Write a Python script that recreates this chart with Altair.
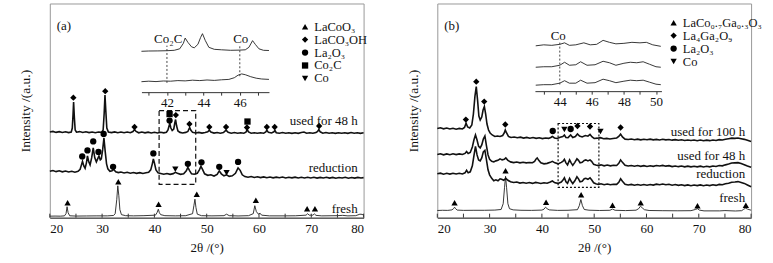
import altair as alt
import pandas as pd

FONT = "Liberation Serif, DejaVu Serif, serif"
T = 2          # top padding (px)
H = 215        # plot height
W = 315        # plot width

# ---------------- panel (a): traces as (2theta, intensity) ----------------
A_FRESH = [(20,1.5),(21,1.6),(22,1.5),(22.8,1.8),(23.1,4),(23.3,11),(23.5,5),(23.8,1.9),(25,1.6),(27,1.7),(29,1.8),
           (31,1.8),(32.2,2.2),(32.5,4),(32.8,18),(33.0,32),(33.2,22),(33.4,8),(33.7,3),(34.5,2),(36,1.8),(38,2),
           (40.2,2.5),(40.5,5),(40.75,8.5),(40.95,5),(41.2,3),(42,2),(44,1.8),(46,2),(47.3,4),(47.55,12),(47.75,18.5),
           (47.95,10),(48.2,3.5),(49,2),(51,1.8),(53.3,2),(53.8,3.5),(54.3,2),(56,1.7),(58,2),(58.9,4),(59.2,12),
           (59.5,6),(59.9,3.5),(60.2,4.5),(60.5,2.5),(62,1.8),(65,1.8),(67,1.9),(69.0,2.5),(69.3,4),(69.6,2.5),
           (70.3,2.5),(70.6,3.8),(70.9,2.3),(72,1.8),(75,2),(76,2.3),(77,1.8),(78.5,2),(79.3,3.5),(79.7,3.3),(80,2.5)]

A_RED = [(20,46.5),(20.6,47.3),(21.2,46.2),(21.8,47),(22.4,46),(23,46.8),(23.6,45.8),(24.2,46.6),(24.8,45.6),(25.4,46.5),
         (25.8,48.5),(26.05,53),(26.25,56.5),(26.5,52),(26.75,49.5),(27.0,55),(27.2,62),(27.45,56),(27.7,53),(28.0,60),
         (28.3,70),(28.6,60),(28.9,56),(29.15,59),(29.4,62),(29.65,58),(29.85,59),(30.1,68),(30.35,80),(30.6,66),
         (30.85,54),(31.1,49),(31.5,46.5),(31.9,47),(32.2,48.5),(32.6,46),(33.1,45.2),(33.6,45.8),(34.2,44.8),(34.8,45.5),
         (35.4,44.6),(36,45.3),(36.6,44.5),(37.2,45.2),(37.8,44.4),(38.4,45),(38.9,45.5),(39.3,48),(39.6,54),(39.8,59),
         (40.0,55),(40.3,48),(40.7,45),(41.2,44.4),(41.8,43.6),(42.4,44.3),(43,43.5),(43.6,44.2),(44.0,45.5),(44.4,44.6),
         (45,43.5),(45.6,44),(46.1,47),(46.4,50.5),(46.7,47.5),(47.1,44),(47.6,43.6),(48.2,44.5),(48.6,48),(48.9,51.5),
         (49.2,48.5),(49.6,44),(50.2,42.5),(50.8,43),(51.4,41.8),(52,43.5),(52.4,47),(52.8,44),(53.3,42),(53.8,43),
         (54.3,41.5),(54.9,42),(55.5,44.5),(56.0,50),(56.4,47.5),(56.8,43),(57.3,41.2),(57.9,40.6),(58.5,41.3),(59.1,40.4),
         (59.7,41),(60.3,40.2),(60.9,40.9),(61.5,40.1),(62.1,40.8),(62.7,40),(63.3,40.7),(63.9,40.1),(64.5,40.8),(65.1,39.9),
         (65.7,40.6),(66.3,40),(66.9,40.7),(67.5,39.8),(68.1,40.5),(68.7,39.9),(69.3,40.6),(69.9,39.8),(70.5,40.5),(71.1,39.7),
         (71.7,40.4),(72.3,39.8),(72.9,40.6),(73.5,39.7),(74.1,40.4),(74.7,39.6),(75.3,40.3),(75.9,39.8),(76.5,40.5),(77.1,39.6),
         (77.7,40.3),(78.3,39.7),(78.9,40.4),(79.5,39.8),(80,40.2)]

A_U48 = [(20,86),(20.6,86.6),(21.2,85.6),(21.8,86.3),(22.4,85.5),(23,86.2),(23.6,85.4),(24.1,86),(24.3,90),(24.45,104),
         (24.55,116),(24.7,100),(24.85,88),(25.1,85.8),(25.7,86.4),(26.3,85.5),(26.9,86.2),(27.5,85.4),(28.1,86),(28.7,85.3),
         (29.3,86),(29.9,85.6),(30.2,88),(30.4,105),(30.55,123),(30.7,108),(30.9,90),(31.2,86),(31.8,85.4),(32.4,86.1),
         (33,85.3),(33.6,86),(34.2,85.2),(34.8,85.9),(35.4,85.3),(35.9,86.5),(36.2,88.5),(36.5,86.6),(37,85.2),(37.6,85.9),
         (38.2,85.1),(38.8,85.8),(39.4,85),(40,85.7),(40.6,85),(41.2,85.7),(41.8,85.1),(42.3,85.8),(42.6,88),(42.8,92),
         (42.95,94.5),(43.15,90),(43.4,87.5),(43.7,89),(43.9,95),(44.05,98.5),(44.25,92),(44.5,87),(44.9,85.6),(45.4,85),
         (46,85.6),(46.4,86.5),(46.6,89),(46.75,90.5),(46.95,88),(47.3,85.6),(47.9,85),(48.5,85.6),(49.1,84.9),(49.7,85.5),
         (50.2,86.2),(50.5,87.8),(50.8,86),(51.4,84.9),(52,85.5),(52.6,84.8),(53.2,85.4),(53.7,87.8),(54.1,85.6),(54.7,84.8),
         (55.3,85.4),(55.9,84.7),(56.5,85.3),(57.1,84.8),(57.5,85.8),(57.75,88.3),(58.0,86),(58.5,84.8),(59.1,85.3),(59.7,84.7),
         (60.3,85.3),(60.9,84.8),(61.3,86),(61.5,87.8),(61.8,85.6),(62.4,85),(62.85,86.2),(63.05,87.5),(63.3,85.3),(63.9,84.8),
         (64.5,85.4),(65.1,84.7),(65.7,85.3),(66.3,84.6),(66.9,85.2),(67.5,84.6),(68.1,85.5),(68.6,86),(69.1,84.8),(69.7,85.3),
         (70.3,84.7),(70.9,85.4),(71.2,86.5),(71.45,88.5),(71.7,86.2),(72.2,84.8),(72.8,85.4),(73.4,84.7),(74,85.3),(74.6,84.6),
         (75.2,85.3),(75.8,84.7),(76.4,85.3),(77,84.6),(77.6,85.4),(78.2,84.7),(78.8,85.3),(79.4,84.6),(80,85.2)]

A_PHASES = ["LaCoO₃", "LaCO₃OH", "La₂O₃", "Co₂C", "Co"]
A_MARKERS = [(23.4,15,0),(33.1,36,0),(40.8,13.5,0),(48.1,23.5,0),(59.4,17.5,0),(69.2,9,0),(70.7,9,0),
             (24.5,120.5,1),(30.6,127,1),(36.2,91,1),(42.9,97.5,2),(42.9,104,3),(44.1,103,1),(46.7,94,1),(50.5,91,1),
             (53.7,91,1),(57.7,90.5,1),(57.8,96.5,3),(61.5,91,1),(63.0,91,1),(71.5,92,1),
             (26.2,61.5,2),(27.2,67.5,2),(28.3,76.5,2),(29.3,66,2),(30.3,84,2),(32.1,51,2),(39.8,64.5,2),(46.4,54,2),
             (49.0,55.5,2),(52.4,51,2),(56.0,56,2),(44.0,48.5,4),(53.8,45,4)]
A_LABELS = [("used for 48 h", 97), ("reduction", 50), ("fresh", 8.5)]
A_BOX = (40.9, 47.9, 33.5, 107.5)

# inset (a)
A_IN_TOP = [(40.6,41),(41.0,41.3),(41.5,41.4),(42.0,41.6),(42.4,42),(42.7,43.5),(42.9,49),(43.0,54.3),(43.15,50),
            (43.35,45.5),(43.5,44.5),(43.7,48),(43.85,55),(43.95,58.7),(44.1,52),(44.3,45),(44.6,43),(45.0,42.5),
            (45.5,42),(46.0,42.2),(46.3,42.5),(46.5,45),(46.7,51.7),(46.85,48),(47.05,43.5),(47.3,42),(47.6,41.8)]
A_IN_BOT = [(40.6,10.5),(41.0,11),(41.4,10.6),(41.8,11.2),(42.2,11),(42.6,11.6),(43.0,11.3),(43.4,12),(43.8,11.6),
            (44.2,12.2),(44.6,11.8),(45.0,12.4),(45.4,12.8),(45.7,14.5),(45.9,17),(46.1,18.3),(46.3,17.5),(46.6,15.5),
            (46.9,14),(47.2,13.2),(47.6,12.8)]
A_IN_RULES = [(42.0, 9.3, 46.7), (46.0, 16, 47)]
A_IN_TEXT = [(42.07, 53, "Co₂C"), (46.05, 53, "Co")]

# ---------------- panel (b) ----------------
B_FRESH = [(20,7.2),(21,7.4),(22,7.3),(22.8,7.8),(23.1,9),(23.3,10.5),(23.5,9),(23.8,7.6),(25,7.3),(27,7.4),(29,7.4),
           (31,7.6),(32.2,8.2),(32.6,14),(32.85,30),(33.05,41.5),(33.25,30),(33.5,14),(33.8,9),(34.5,7.8),(36,7.4),(38,7.3),
           (40,7.6),(40.4,8.5),(40.7,10.5),(41.0,9),(41.4,7.8),(43,7.3),(45,7.4),(46.8,8),(47.15,12),(47.45,18.2),
           (47.75,12),(48.1,8.2),(49,7.5),(51,7.2),(53,7.4),(53.5,8.6),(54,7.4),(56,7.1),(58,7.5),(58.5,9),(58.85,11.5),
           (59.2,9.8),(59.6,8),(60.5,7.2),(63,7),(66,6.9),(68.5,7),(69.4,8.3),(69.75,9),(70.1,7.6),(71,6.8),(74,6.8),
           (75,7.1),(77,6.7),(78.2,7),(78.6,8.5),(78.95,9.5),(79.3,8.6),(80,7.5)]

B_RED = [(20,44),(20.6,44.7),(21.2,43.6),(21.8,44.5),(22.4,43.7),(23,44.6),(23.6,43.8),(24.2,44.5),(24.8,43.9),(25.3,45),
         (25.6,47.5),(25.9,45),(26.3,46),(26.7,52),(27.0,62),(27.3,71.5),(27.6,63),(27.9,58),(28.2,57),(28.5,60),(28.8,66),
         (29.1,67.5),(29.4,58),(29.7,48),(30,43),(30.4,39.5),(30.8,37),(31.2,38),(31.6,37),(32.0,39),(32.3,38.5),(32.7,37.5),
         (33.1,39.5),(33.5,37.5),(34,36),(34.6,35.3),(35.2,35.8),(35.8,34.7),(36.4,35.3),(37,34.5),(37.6,35.2),(38.2,34.4),
         (38.8,35.4),(39.2,35),(39.8,34.3),(40.4,35),(41,34.6),(41.6,35.8),(42.0,36.8),(42.5,35),(43.1,34.4),(43.7,35.8),
         (44.0,37.5),(44.3,40),(44.6,36),(44.9,34.5),(45.3,39.5),(45.6,36.5),(45.9,34.2),(46.3,37),(46.7,41),(47.0,39),
         (47.3,36),(47.7,36.5),(48.1,39),(48.4,39.5),(48.8,38.5),(49.2,40),(49.5,38),(49.9,35),(50.3,34),(50.8,33.3),
         (51.3,34),(51.9,33.1),(52.5,33.8),(53.1,33),(53.7,33.6),(54.3,33.4),(54.7,35.5),(55.05,39),(55.4,36.5),(55.9,33.5),
         (56.5,32.8),(57.1,33.4),(57.7,32.6),(58.3,33.3),(58.9,32.5),(59.5,33.2),(60.1,32.6),(60.7,33.3),(61.3,32.7),
         (61.9,33.6),(62.5,33),(63.1,33.8),(63.7,33),(64.3,33.5),(64.9,32.6),(65.5,33.2),(66.1,32.4),(66.7,33),(67.3,32.2),
         (67.9,32.9),(68.5,32.1),(69.1,32.8),(69.7,32.2),(70.3,32.9),(70.9,32.1),(71.5,32.8),(72.1,32.2),(72.7,33),
         (73.3,32.4),(73.9,33.4),(74.5,33),(75.1,34),(75.7,34.6),(76.3,35.6),(76.9,35.8),(77.5,36.2),(78.1,35.4),
         (78.7,34.4),(79.3,32.8),(80,31)]

B_U48 = [(20,63.5),(20.6,64.2),(21.2,63.1),(21.8,64),(22.4,63.2),(23,64.1),(23.6,63.3),(24.2,64),(24.8,63.4),(25.3,64.5),
         (25.6,66.5),(25.9,64.5),(26.3,65.5),(26.7,71),(27.0,78),(27.3,83),(27.6,78),(27.9,71.5),(28.2,70),(28.5,73),
         (28.8,79),(29.1,82),(29.4,72),(29.7,63),(30,58.5),(30.4,56.5),(30.8,56),(31.2,57),(31.6,57.5),(32.0,59),(32.4,58),
         (32.8,58.5),(33.1,60),(33.5,57.5),(34,56),(34.6,55.3),(35.2,55.8),(35.8,55),(36.4,55.6),(37,55),(37.6,55.4),
         (38.2,55.2),(38.6,56.5),(38.9,59),(39.1,60),(39.4,57.5),(39.8,55),(40.4,54),(41,54.5),(41.6,55.5),(42.0,56.5),
         (42.5,55),(43.1,54),(43.7,55.5),(44.0,56.5),(44.3,58.5),(44.6,55),(44.9,53),(45.3,58),(45.6,55),(45.9,52.5),
         (46.3,55.5),(46.7,59),(47.0,57.5),(47.3,55),(47.7,55.5),(48.1,57.5),(48.4,58),(48.8,57),(49.2,58),(49.5,56.5),
         (49.9,53.5),(50.3,52.8),(50.8,52.3),(51.3,53),(51.9,52),(52.5,52.8),(53.1,52),(53.7,52.6),(54.3,52.4),(54.7,54.5),
         (55.05,58),(55.4,55.5),(55.9,52.5),(56.5,51.8),(57.1,52.4),(57.7,51.6),(58.3,52.3),(58.9,51.5),(59.5,52.2),
         (60.1,51.4),(60.7,52.1),(61.3,51.5),(61.9,52.3),(62.5,51.8),(63.1,52.5),(63.7,51.7),(64.3,52.2),(64.9,51.3),
         (65.5,51.9),(66.1,51.2),(66.7,51.8),(67.3,51),(67.9,51.7),(68.5,51),(69.1,51.6),(69.7,51),(70.3,51.7),(70.9,50.9),
         (71.5,51.6),(72.1,51),(72.7,51.8),(73.3,51.3),(73.9,52.3),(74.5,52),(75.1,53),(75.7,53.8),(76.3,54.8),(76.9,55),
         (77.5,55.2),(78.1,54.4),(78.7,53.2),(79.3,51.8),(80,50.5)]

B_U100 = [(20,89.5),(20.6,90.2),(21.2,89.2),(21.8,90),(22.4,89),(23,89.8),(23.6,88.8),(24.2,89.6),(24.8,89),(25.2,90.5),
          (25.5,94.8),(25.8,91),(26.2,90),(26.6,93),(26.9,104),(27.2,122),(27.45,131.5),(27.7,118),(27.95,102),(28.2,98),
          (28.5,101),(28.75,108),(29.0,111.5),(29.25,104),(29.5,94),(29.8,88),(30.1,85),(30.5,83),(31,81.5),(31.5,82),
          (32,81.5),(32.5,82.5),(32.8,85),(33.0,88),(33.25,85),(33.6,81.5),(34.1,80.5),(34.7,81),(35.3,80.2),(35.9,80.8),
          (36.5,79.9),(37.1,80.6),(37.7,79.7),(38.3,80.4),(38.9,79.6),(39.5,80.2),(40.1,79.4),(40.7,80),(41.3,79.6),
          (41.7,80.5),(42.0,81.5),(42.4,80),(42.9,79.5),(43.5,80.8),(44.0,81.5),(44.3,83),(44.6,80.5),(45.0,80.3),(45.5,83),
          (45.9,80.4),(46.4,81.5),(46.8,84),(47.2,82),(47.7,81),(48.3,82.5),(48.8,81.8),(49.2,83.5),(49.6,81),(50.0,79.5),
          (50.6,79.8),(51.2,80.3),(51.8,79.2),(52.4,79.6),(53,79),(53.6,79.5),(54.3,80),(54.7,81.5),(55.05,83.8),(55.4,81),
          (55.9,78.8),(56.5,78.5),(57.1,79),(57.7,78.3),(58.3,78.8),(58.9,78.1),(59.5,78.7),(60.1,78.2),(60.7,78.8),
          (61.3,78.1),(61.9,78.6),(62.5,78),(63.1,78.7),(63.7,78.1),(64.3,78.5),(64.9,77.8),(65.5,78.3),(66.1,77.7),
          (66.7,78.2),(67.3,77.5),(67.9,78),(68.5,77.4),(69.1,78),(69.7,77.3),(70.3,77.9),(70.9,77.2),(71.5,77.8),
          (72.1,77.3),(72.7,78),(73.3,77.5),(73.9,78.3),(74.5,78),(75.1,78.8),(75.7,79.3),(76.3,79.8),(76.9,79.6),
          (77.5,80),(78.1,79.3),(78.7,78.6),(79.3,77.6),(80,76.5)]

B_PHASES = ["LaCo₀.₇Ga₀.₃O₃", "La₄Ga₂O₉", "La₂O₃", "Co"]
B_MARKERS = [(23.3,15,0),(33.05,47,0),(40.8,15.5,0),(47.5,23,0),(53.5,12.5,0),(58.9,15,0),(69.75,12,0),(79.0,12.5,0),
             (25.46,98.5,1),(27.45,136.5,1),(28.97,116.5,1),(33.0,93.5,1),(46.8,92,1),(49.2,91.5,1),(55.05,90.5,1),
             (42.07,87,2),(45.5,89,2),(44.3,88.5,3),(51.2,86.5,3)]
B_LABELS = [("used for 100 h", 86), ("used for 48 h", 62), ("reduction", 43.5), ("fresh", 20)]
B_BOX = (43.1, 50.9, 30.5, 94.5)

B_IN_TOP = [(42.5,45.5),(43.0,46.5),(43.5,46),(44.0,47),(44.3,48.5),(44.6,46),(45.0,46.5),(45.5,48.5),(45.9,46.5),
            (46.3,47),(46.7,51),(47.1,49),(47.5,47.5),(48.0,48),(48.5,49),(49.0,48.5),(49.4,49),(49.8,46.5),(50.3,45)]
B_IN_MID = [(42.5,24),(43.0,24.5),(43.5,24.5),(44.0,26),(44.3,29),(44.6,26),(45.0,26.5),(45.3,29.5),(45.7,26),
            (46.2,26.5),(46.7,30),(47.1,28.5),(47.5,26),(48.0,28),(48.4,29),(48.8,28.5),(49.2,29.5),(49.6,27),
            (50.0,24.5),(50.3,24)]
B_IN_BOT = [(42.5,6),(43.0,6.5),(43.5,6.5),(44.0,8),(44.3,10.5),(44.6,8),(45.0,8),(45.3,11),(45.7,8),(46.2,8.5),
            (46.7,12),(47.1,10.5),(47.5,8.5),(48.0,10),(48.4,11),(48.8,10.5),(49.2,11),(49.6,9),(50.0,7),(50.3,6.5)]
B_IN_RULES = [(44.0, 6.7, 50)]
B_IN_TEXT = [(43.9, 55, "Co")]

SHAPES_A = ["triangle-up", "diamond", "circle", "square", "triangle-down"]
SHAPES_B = ["triangle-up", "diamond", "circle", "triangle-down"]
XTICKS = list(range(20, 81, 5))


def traces_df(named):
    rows = []
    for name, pts in named:
        for d, v in pts:
            rows.append({"deg": d, "h": v, "trace": name})
    return pd.DataFrame(rows)


def panel(tag, fresh, noisy, phases, shapes, markers, labels, box, box_dash,
          inset_traces, in_rules, in_text, in_dom, in_rng, in_ticks, in_axis_py,
          leg_x, leg_first_row_py):
    xs = alt.Scale(domain=[20, 80], nice=False, zero=False)
    ys = alt.Scale(domain=[0, H], nice=False, zero=False)
    xax = alt.Axis(values=list(range(20, 81, 10)), format="d", ticks=False, grid=False,
                   domainColor="#333", labelFont=FONT, labelFontSize=13, labelColor="#111",
                   labelPadding=5, title="2θ /(°)", titleFont=FONT, titleFontSize=13,
                   titleFontWeight="normal", titleColor="#111", titlePadding=6)
    yax = alt.Axis(labels=False, ticks=False, domain=False, grid=False,
                   title="Intensity /(a.u.)", titleFont=FONT, titleFontSize=13.5,
                   titleFontWeight="normal", titleColor="#111", titlePadding=17)
    X = lambda f: alt.X(f, type="quantitative", scale=xs, axis=xax)
    Y = lambda f: alt.Y(f, type="quantitative", scale=ys, axis=yax)

    df_noisy = traces_df(noisy)
    df_fresh = traces_df([("fresh", fresh)])
    l_noisy = alt.Chart(df_noisy).mark_line(color="#111", strokeWidth=1.6).encode(
        x=X("deg"), y=Y("h"), detail="trace:N")
    l_fresh = alt.Chart(df_fresh).mark_line(color="#222", strokeWidth=0.9).encode(
        x=X("deg"), y=Y("h"))

    mdf = pd.DataFrame([{"deg": d, "h": v, "phase": phases[i]} for d, v, i in markers])
    pts = alt.Chart(mdf).mark_point(filled=True, size=40, opacity=1, color="black", strokeWidth=0).encode(
        x=X("deg"), y=Y("h"),
        shape=alt.Shape("phase:N", scale=alt.Scale(domain=phases, range=shapes),
                        legend=alt.Legend(orient="none", legendX=leg_x,
                                          legendY=leg_first_row_py - T - 6, title=None,
                                          labelFont=FONT, labelFontSize=12.5, labelColor="#111",
                                          symbolSize=40, symbolFillColor="black", symbolStrokeWidth=0,
                                          labelOffset=3, rowPadding=0, padding=0)))

    ldf = pd.DataFrame([{"deg": 80, "h": v, "text": t} for t, v in labels])
    lab = alt.Chart(ldf).mark_text(align="right", baseline="middle", dx=-6, font=FONT,
                                   fontSize=13, color="#111").encode(x=X("deg"), y=Y("h"), text="text:N")

    tdf = pd.DataFrame([{"deg": 20, "h": 192, "text": tag}])
    tagc = alt.Chart(tdf).mark_text(align="left", baseline="middle", dx=7, font=FONT,
                                    fontSize=13, color="#111").encode(x=X("deg"), y=Y("h"), text="text:N")

    bdf = pd.DataFrame([{"deg": box[0], "deg2": box[1], "h": box[2], "h2": box[3]}])
    boxc = alt.Chart(bdf).mark_rect(filled=False, stroke="#111", strokeWidth=1.2,
                                    strokeDash=box_dash).encode(
        x=X("deg"), x2="deg2", y=Y("h"), y2="h2")

    kdf = pd.DataFrame({"deg": XTICKS})
    ticks = alt.Chart(kdf).mark_rule(color="#333", strokeWidth=1).encode(
        x=X("deg"), y=alt.value(H), y2=alt.value(H - 4))

    main = alt.layer(l_fresh, l_noisy, boxc, ticks, pts, lab, tagc)

    # inset
    ixs = alt.Scale(domain=in_dom, range=in_rng, nice=False, zero=False)
    rel = in_axis_py - T
    iys = alt.Scale(domain=[0, 60], range=[rel, rel - 60], nice=False, zero=False)
    iax = alt.Axis(orient="bottom", offset=rel - H, values=in_ticks, grid=False, title=None,
                   labelExpr="datum.value % 2 == 0 ? datum.label : ''", tickSize=3,
                   tickColor="#333", domainColor="#333", labelFont=FONT, labelFontSize=13,
                   labelColor="#111", labelPadding=1, format="d")
    IX = lambda f: alt.X(f, type="quantitative", scale=ixs, axis=iax)
    IY = lambda f: alt.Y(f, type="quantitative", scale=iys, axis=None)

    idf = traces_df(inset_traces).rename(columns={"deg": "ix", "h": "iy"})
    il = alt.Chart(idf).mark_line(color="#222", strokeWidth=0.9).encode(
        x=IX("ix"), y=IY("iy"), detail="trace:N")
    rdf = pd.DataFrame([{"ix": x, "iy": a, "iy2": b} for x, a, b in in_rules])
    ir = alt.Chart(rdf).mark_rule(color="#333", strokeWidth=0.9, strokeDash=[2, 2]).encode(
        x=IX("ix"), y=IY("iy"), y2="iy2")
    tx = pd.DataFrame([{"ix": x, "iy": y, "text": t} for x, y, t in in_text])
    it = alt.Chart(tx).mark_text(align="center", baseline="middle", font=FONT, fontSize=13,
                                 color="#111").encode(x=IX("ix"), y=IY("iy"), text="text:N")
    inset = alt.layer(il, ir, it)

    return alt.layer(main, inset).resolve_scale(x="independent", y="independent").properties(
        width=W, height=H)


pa = panel("(a)", A_FRESH, [("reduction", A_RED), ("used48", A_U48)], A_PHASES, SHAPES_A,
           A_MARKERS, A_LABELS, A_BOX, [5, 3],
           [("top", A_IN_TOP), ("bot", A_IN_BOT)], A_IN_RULES, A_IN_TEXT,
           [40.6, 47.6], [92, 220], list(range(41, 48)), 91, 250, 25)

pb = panel("(b)", B_FRESH, [("reduction", B_RED), ("used48", B_U48), ("used100", B_U100)], B_PHASES,
           SHAPES_B, B_MARKERS, B_LABELS, B_BOX, [2, 2],
           [("top", B_IN_TOP), ("mid", B_IN_MID), ("bot", B_IN_BOT)], B_IN_RULES, B_IN_TEXT,
           [42.45, 50.34], [98, 225], list(range(43, 51)), 90, 231, 21)

chart = alt.hconcat(pa, pb, spacing=74, bounds="flush").resolve_scale(
    x="independent", y="independent", shape="independent").resolve_legend(
    shape="independent").properties(
    padding={"left": 18, "top": T, "right": 10, "bottom": 4}).configure_view(
    stroke="#999", strokeWidth=1)

chart.save("out.html", embed_options={"renderer": "svg", "actions": False})
